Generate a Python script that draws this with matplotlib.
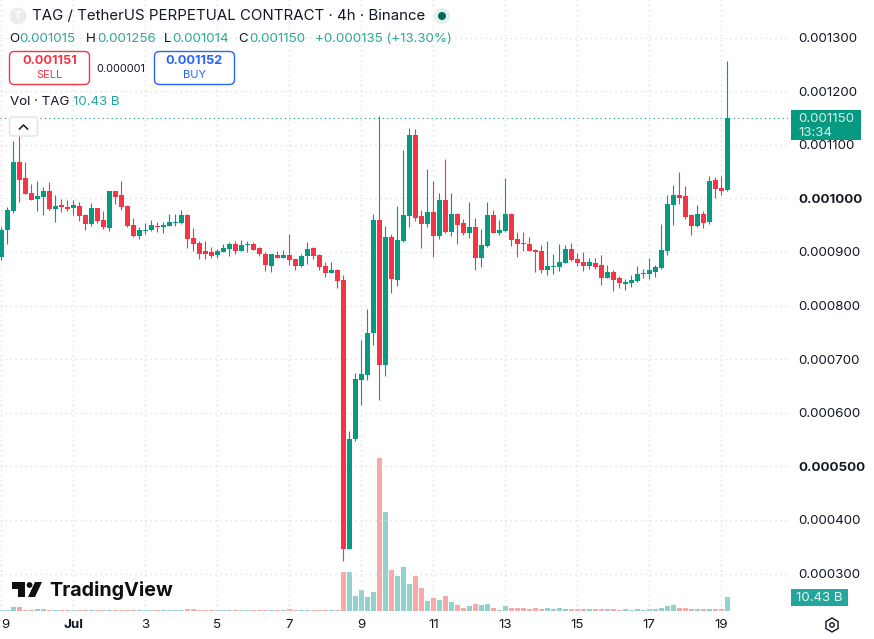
import matplotlib
matplotlib.use("Agg")
import matplotlib.pyplot as plt
from matplotlib.patches import Circle, FancyBboxPatch, Polygon, Rectangle, RegularPolygon
import numpy as np

plt.rcParams["font.family"] = ["Inter", "DejaVu Sans"]

# 4h candles, prices in millionths
opens = [890, 941, 976, 1068, 1038, 1010, 999, 1002, 1014, 980, 988, 984, 982, 986, 969, 952, 982, 959, 944, 1014,
         1006, 986, 950, 929, 939, 941, 949, 946, 948, 954, 954, 969, 926, 916, 901, 899, 894, 899, 905, 914,
         901, 912, 914, 907, 897, 873, 894, 888, 894, 886, 873, 892, 907, 894, 873, 860, 866, 847, 346, 551,
         661, 670, 748, 959, 689, 927, 847, 920, 967, 1119, 967, 952, 974, 929, 997, 937, 971, 954, 935, 946,
         888, 911, 969, 935, 939, 971, 924, 917, 915, 904, 902, 866, 872, 872, 879, 906, 887, 881, 874, 879,
         876, 851, 863, 851, 841, 842, 846, 859, 859, 863, 870, 902, 988, 1006, 1004, 969, 948, 971, 956, 1034,
         1019, 1015]
highs = [946, 983, 1106, 1125, 1068, 1027, 1032, 1021, 1031, 1006, 999, 997, 997, 993, 971, 991, 982, 976, 1014, 1014,
         1032, 988, 963, 946, 954, 959, 956, 956, 971, 971, 978, 971, 944, 920, 920, 909, 905, 914, 918, 920,
         922, 920, 918, 909, 899, 896, 901, 903, 933, 886, 897, 918, 909, 896, 881, 881, 869, 856, 566, 675,
         735, 793, 971, 1154, 948, 933, 986, 1091, 1132, 1130, 978, 1055, 1032, 1010, 1074, 1010, 972, 961, 993, 963,
         942, 993, 978, 959, 1038, 972, 937, 937, 928, 906, 913, 920, 896, 915, 913, 917, 898, 900, 889, 889,
         894, 876, 866, 855, 850, 857, 874, 868, 889, 876, 952, 1006, 1025, 1049, 1023, 971, 988, 976, 1042, 1040,
         1042, 1256]
lows = [884, 914, 973, 993, 1008, 997, 976, 969, 978, 956, 974, 976, 969, 958, 941, 948, 954, 942, 939, 989,
        978, 946, 928, 924, 933, 939, 937, 935, 948, 948, 952, 907, 901, 886, 886, 888, 888, 899, 892, 897,
        901, 899, 903, 892, 864, 862, 888, 888, 875, 866, 871, 877, 886, 866, 854, 860, 832, 324, 346, 547,
        614, 661, 726, 623, 668, 824, 837, 918, 946, 957, 907, 946, 890, 924, 935, 929, 914, 931, 926, 867,
        871, 909, 935, 931, 937, 911, 891, 902, 902, 863, 861, 857, 859, 865, 879, 883, 874, 865, 868, 868,
        838, 851, 827, 833, 829, 835, 844, 851, 850, 853, 868, 894, 950, 989, 961, 932, 947, 945, 952, 1001,
        1006, 1014]
closes = [941, 978, 1067, 1034, 1008, 997, 1004, 1014, 980, 986, 984, 980, 988, 967, 952, 982, 958, 946, 1014, 1002,
          984, 948, 929, 941, 941, 950, 946, 950, 956, 956, 969, 924, 914, 897, 897, 892, 901, 907, 914, 901,
          912, 914, 903, 896, 875, 896, 888, 894, 884, 873, 892, 905, 892, 871, 860, 866, 845, 346, 551, 663,
          672, 748, 959, 689, 927, 849, 922, 969, 1119, 963, 952, 974, 929, 997, 937, 971, 950, 935, 946, 888,
          912, 969, 935, 941, 971, 922, 915, 915, 902, 900, 866, 874, 874, 881, 906, 885, 879, 874, 881, 872,
          851, 863, 848, 842, 844, 848, 859, 861, 866, 872, 904, 989, 1006, 1001, 965, 948, 971, 954, 1032, 1017,
          1014, 1150]
# volume in billions
volumes = [0.75, 0.75, 3.0, 3.0, 1.1, 0.75, 1.5, 1.5, 0.75, 0.75, 0.75, 0.75, 0.75, 0.75, 0.75, 0.75, 0.75, 0.75, 0.75, 0.75,
           0.75, 0.75, 0.75, 0.75, 0.75, 0.75, 0.75, 0.75, 0.75, 0.75, 0.75, 1.5, 1.5, 0.75, 0.75, 0.75, 0.75, 0.75, 0.75, 0.75,
           0.75, 0.75, 0.75, 0.75, 0.75, 0.75, 0.75, 0.75, 1.5, 0.75, 0.75, 0.75, 0.75, 0.75, 0.75, 0.75, 0.75, 29.1, 29.1, 11.2,
           15.6, 10.4, 14.2, 114.0, 73.8, 30.5, 26.1, 32.8, 20.1, 26.1, 17.1, 7.5, 9.7, 8.2, 11.2, 6.7, 4.5, 2.2, 3.7, 5.2,
           4.5, 5.2, 1.9, 1.1, 3.7, 2.2, 2.2, 2.2, 1.5, 2.2, 1.5, 2.2, 1.5, 2.2, 1.5, 1.5, 1.5, 1.5, 1.5, 1.5,
           1.5, 1.5, 1.5, 0.75, 1.5, 0.75, 1.5, 0.75, 1.5, 1.5, 2.2, 3.7, 4.5, 2.2, 2.2, 1.5, 1.5, 1.5, 1.5, 1.5,
           1.5, 10.43]

price_ticks = [1300, 1200, 1100, 1000, 900, 800, 700, 600, 500, 400, 300]
bold_prices = [1000, 500]
date_ticks = [0, 12, 24, 36, 48, 60, 72, 84, 96, 108, 120]
date_labels = ["9", "Jul", "3", "5", "7", "9", "11", "13", "15", "17", "19"]

GREEN = "#089981"
RED = "#f23645"
VOL_GREEN = "#92d2cc"
VOL_RED = "#f7a9a7"
GRID = "#d9dadf"
TEXT = "#131722"

W, H = 874, 639
PLOT_RIGHT, PLOT_BOTTOM = 788, 611
PX_PER_UNIT = 0.536
PRICE_AT_TOP = 1000 + 198.3 / PX_PER_UNIT
X0 = 1.3
BAR_PX = 6.0
DOTS = (0, (1, 3))

opens, highs, lows, closes = map(np.array, (opens, highs, lows, closes))
volumes = np.array(volumes)
idx = np.arange(len(opens))
up = closes >= opens

fig = plt.figure(figsize=(W / 100, H / 100), dpi=100, facecolor="white")
rect = [0, 1 - PLOT_BOTTOM / H, PLOT_RIGHT / W, PLOT_BOTTOM / H]
xlim = (-X0 / BAR_PX, (PLOT_RIGHT - X0) / BAR_PX)

# volume pane sits under the candles
axv = fig.add_axes(rect, zorder=1)
axv.set_xlim(xlim)
axv.set_ylim(0, PLOT_BOTTOM * 0.745)
axv.axis("off")
axv.bar(idx, volumes, width=0.8, color=[VOL_GREEN if u else VOL_RED for u in up], linewidth=0)

ax = fig.add_axes(rect, facecolor="none", zorder=2)
ax.set_xlim(xlim)
ax.set_ylim(PRICE_AT_TOP - PLOT_BOTTOM / PX_PER_UNIT, PRICE_AT_TOP)
for s in ax.spines.values():
    s.set_visible(False)
ax.set_xticks([])
ax.set_yticks([])

for p in price_ticks:
    ax.axhline(p, color=GRID, lw=0.9, ls=DOTS, zorder=0)
for d in date_ticks:
    ax.axvline(d, color=GRID, lw=0.9, ls=DOTS, zorder=0)

colors = [GREEN if u else RED for u in up]
ax.vlines(idx, lows, highs, colors=colors, lw=0.8, zorder=3)
ax.bar(idx, np.maximum(np.abs(closes - opens), 1.8), bottom=np.minimum(opens, closes), width=0.82,
       color=colors, linewidth=0, zorder=4)
ax.axhline(closes[-1], color=GREEN, lw=0.8, ls=DOTS, zorder=2)

# everything else is placed in pixels on a full-figure overlay
ov = fig.add_axes([0, 0, 1, 1], facecolor="none", zorder=5)
ov.set_xlim(0, W)
ov.set_ylim(H, 0)
ov.axis("off")


def price_y(p):
    return (PRICE_AT_TOP - p) * PX_PER_UNIT


def label(x, y, s, size=9.6, color=TEXT, **kw):
    # Inter sits a touch high with va=center
    kw.setdefault("va", "center")
    return ov.text(x, y + 1.5, s, fontsize=size, color=color, **kw)


def box(x, y, w, h, edge, face="white", r=4, lw=1.0):
    ov.add_patch(FancyBboxPatch((x + r, y + r), w - 2 * r, h - 2 * r, boxstyle=f"round,pad={r},rounding_size={r}",
                                fc=face, ec=edge, lw=lw))


for p in price_ticks:
    label(798.5, price_y(p), f"{p / 1e6:.6f}", fontweight="bold" if p in bold_prices else "normal")

for d, lab in zip(date_ticks, date_labels):
    px = 5 if d == 0 else X0 + d * BAR_PX
    label(px, 624, lab, ha="center", fontweight="bold" if lab == "Jul" else "normal")

# header
ov.add_patch(Circle((18, 16), 8.5, fc="#ececec", ec="none"))
label(18, 14.5, "T", size=7, color="white", ha="center", fontweight="bold")
label(32, 15, "TAG / TetherUS PERPETUAL CONTRACT · 4h · Binance", size=10.8)
ov.add_patch(Circle((442, 16), 8, fc="#dff1ec", ec="none"))
ov.add_patch(Circle((442, 16), 4, fc="#056656", ec="none"))

ohlc_items = [(9, "O", TEXT), (19, "0.001015", GREEN), (86, "H", TEXT), (97, "0.001256", GREEN),
              (164, "L", TEXT), (172, "0.001014", GREEN), (238, "C", TEXT), (249, "0.001150", GREEN),
              (315, "+0.000135 (+13.30%)", GREEN)]
for x, s, c in ohlc_items:
    label(x, 38, s, color=c, alpha=0.85 if c == GREEN else 1)

box(9.5, 51.5, 80, 33, RED, r=5)
label(49.5, 59.5, "0.001151", size=9.2, color=RED, ha="center", fontweight="bold")
label(49.5, 74, "SELL", size=8, color=RED, ha="center")
label(121, 67.5, "0.000001", size=7.9, ha="center")
box(154.5, 51.5, 80, 33, "#2962ff", r=5)
label(194.5, 59.5, "0.001152", size=9.2, color="#2962ff", ha="center", fontweight="bold")
label(194.5, 74, "BUY", size=8, color="#2962ff", ha="center")

label(10, 100.5, "Vol · TAG")
label(73, 100.5, "10.43 B", color="#26a69a")

# collapse button
box(9.5, 117, 28, 19, "#e0e3eb", r=3)
ov.plot([19.5, 23.5, 27.5], [129, 125, 129], color=TEXT, lw=1.1)

# last price and volume tags
ov.add_patch(Rectangle((791, 110), 70, 30, fc=GREEN, ec="none", zorder=4))
label(798.5, 117.5, f"{closes[-1] / 1e6:.6f}", color="#d6f0ea", zorder=5)
label(798.5, 131.5, "13:34", color="#d6f0ea", zorder=5)
ov.add_patch(Rectangle((791, 589), 57, 17, fc="#26a69a", ec="none", zorder=4))
label(819.5, 596.5, "10.43 B", color="#e4f5f2", ha="center", zorder=5)

# watermark
LOGO = "#0f0f0f"
ov.add_patch(Rectangle((12, 582), 13, 7, fc=LOGO, ec="none"))
ov.add_patch(Rectangle((17.5, 589), 7.5, 8, fc=LOGO, ec="none"))
ov.add_patch(Circle((29.5, 585), 2.9, fc=LOGO, ec="none"))
ov.add_patch(Polygon([(35, 582), (42, 582), (35, 597), (28, 597)], fc=LOGO, ec="none"))
label(49, 589, "TradingView", size=14.2, color=LOGO, fontweight="bold")

# settings icon
ov.add_patch(RegularPolygon((832, 625), 6, radius=7, orientation=0, fc="none", ec=TEXT, lw=1.0))
ov.add_patch(Circle((832, 625), 2.2, fc="none", ec=TEXT, lw=1.0))

fig.savefig("out.png", dpi=100)
